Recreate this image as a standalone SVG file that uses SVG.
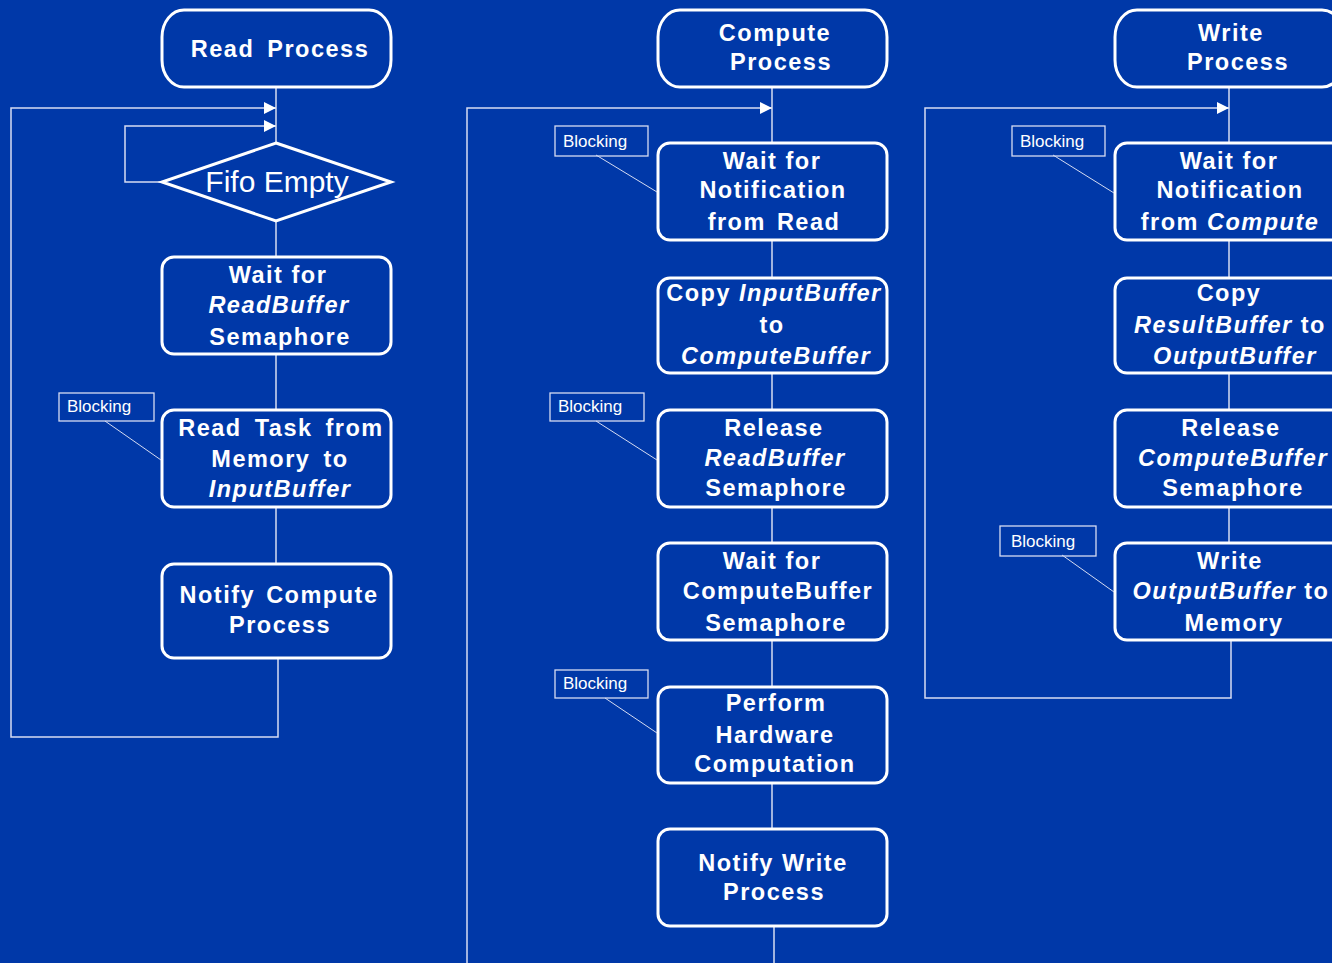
<svg xmlns="http://www.w3.org/2000/svg" width="1332" height="963" viewBox="0 0 1332 963">
<defs>
<marker id="arr" viewBox="0 0 12 12" refX="12" refY="6" markerWidth="12" markerHeight="12" markerUnits="userSpaceOnUse" orient="auto">
<path d="M0,0 L12,6 L0,12 z" fill="#ffffff"/>
</marker>
<style>
.bg{fill:#0038a8}
.term{fill:#0038a8;stroke:#ffffff;stroke-width:3}
.box{fill:#0038a8;stroke:#ffffff;stroke-width:3}
.con{fill:none;stroke:#d6dcf2;stroke-width:1.5}
.t{font-family:"Liberation Sans",Arial,sans-serif;font-weight:bold;font-size:23.5px;fill:#ffffff;text-anchor:middle;letter-spacing:1.5px}
.i{font-style:italic}
.w{word-spacing:5px}
.blk rect{fill:none;stroke:#d6dcf2;stroke-width:1.3}
.blk text{font-family:"Liberation Sans",Arial,sans-serif;font-size:17px;fill:#ffffff}
.blk line{stroke:#d6dcf2;stroke-width:1}
.fifo{font-family:"Liberation Sans",Arial,sans-serif;font-size:30px;fill:#ffffff;text-anchor:middle}
</style>
</defs>
<rect class="bg" x="0" y="0" width="1332" height="963"/>

<g id="connectors">
<line class="con" x1="276" y1="87" x2="276" y2="143"/>
<line class="con" x1="276" y1="221" x2="276" y2="257"/>
<line class="con" x1="276" y1="354" x2="276" y2="410"/>
<line class="con" x1="276" y1="507" x2="276" y2="564"/>
<polyline class="con" points="162,182 125,182 125,126 276,126" marker-end="url(#arr)"/>
<polyline class="con" points="278,658 278,737 11,737 11,108 276,108" marker-end="url(#arr)"/>
<line class="con" x1="772" y1="87" x2="772" y2="143"/>
<line class="con" x1="772" y1="240" x2="772" y2="278"/>
<line class="con" x1="772" y1="373" x2="772" y2="410"/>
<line class="con" x1="772" y1="507" x2="772" y2="543"/>
<line class="con" x1="772" y1="640" x2="772" y2="687"/>
<line class="con" x1="772" y1="783" x2="772" y2="829"/>
<line class="con" x1="774" y1="926" x2="774" y2="963"/>
<polyline class="con" points="467,963 467,108 772,108" marker-end="url(#arr)"/>
<line class="con" x1="1229" y1="87" x2="1229" y2="143"/>
<line class="con" x1="1229" y1="240" x2="1229" y2="278"/>
<line class="con" x1="1229" y1="373" x2="1229" y2="410"/>
<line class="con" x1="1229" y1="507" x2="1229" y2="543"/>
<polyline class="con" points="1231,640 1231,698 925,698 925,108 1229,108" marker-end="url(#arr)"/>
</g>

<g id="read-process">
<rect class="term" x="162" y="10" width="229" height="77" rx="22" ry="27"/>
<text class="t w" x="280" y="57">Read Process</text>
</g>
<g id="fifo-empty">
<polygon class="box" points="276,143 391,182 276,221 162,182"/>
<text class="fifo" x="277" y="192">Fifo Empty</text>
</g>
<g id="wait-readbuffer">
<rect class="box" x="162" y="257" width="229" height="97" rx="12"/>
<text class="t" x="278" y="283">Wait for</text>
<text class="t i" x="279" y="313">ReadBuffer</text>
<text class="t" x="280" y="345">Semaphore</text>
</g>
<g id="read-task">
<rect class="box" x="162" y="410" width="229" height="97" rx="12"/>
<text class="t w" x="281" y="436" word-spacing="3">Read Task from</text>
<text class="t w" x="280" y="467">Memory to</text>
<text class="t i" x="280" y="497">InputBuffer</text>
</g>
<g id="notify-compute">
<rect class="box" x="162" y="564" width="229" height="94" rx="12"/>
<text class="t" x="279" y="603" word-spacing="3">Notify Compute</text>
<text class="t" x="280" y="633">Process</text>
</g>
<g id="blocking-1">
<g class="blk">
<rect x="59" y="393" width="95" height="28"/>
<text x="67" y="412">Blocking</text>
<line x1="105" y1="421" x2="161" y2="460"/>
</g>
</g>

<g id="compute-process">
<rect class="term" x="658" y="10" width="229" height="77" rx="22" ry="27"/>
<text class="t" x="775" y="41">Compute</text>
<text class="t" x="781" y="70">Process</text>
</g>
<g id="wait-notif-read">
<rect class="box" x="658" y="143" width="229" height="97" rx="12"/>
<text class="t" x="772" y="169">Wait for</text>
<text class="t" x="773" y="198">Notification</text>
<text class="t" x="774" y="230" word-spacing="3">from Read</text>
</g>
<g id="copy-input">
<rect class="box" x="658" y="278" width="229" height="95" rx="12"/>
<text class="t" x="774" y="301" letter-spacing="1">Copy <tspan class="i">InputBuffer</tspan></text>
<text class="t" x="772" y="333">to</text>
<text class="t i" x="776" y="364">ComputeBuffer</text>
</g>
<g id="release-readbuffer">
<rect class="box" x="658" y="410" width="229" height="97" rx="12"/>
<text class="t" x="774" y="436">Release</text>
<text class="t i" x="775" y="466">ReadBuffer</text>
<text class="t" x="776" y="496">Semaphore</text>
</g>
<g id="wait-computebuffer">
<rect class="box" x="658" y="543" width="229" height="97" rx="12"/>
<text class="t" x="772" y="569">Wait for</text>
<text class="t" x="778" y="599">ComputeBuffer</text>
<text class="t" x="776" y="631">Semaphore</text>
</g>
<g id="perform-hw">
<rect class="box" x="658" y="687" width="229" height="96" rx="12"/>
<text class="t" x="776" y="711">Perform</text>
<text class="t" x="775" y="743">Hardware</text>
<text class="t" x="775" y="772">Computation</text>
</g>
<g id="notify-write">
<rect class="box" x="658" y="829" width="229" height="97" rx="12"/>
<text class="t" x="773" y="871">Notify Write</text>
<text class="t" x="774" y="900">Process</text>
</g>
<g id="blocking-2">
<g class="blk">
<rect x="555" y="126" width="93" height="30"/>
<text x="563" y="147">Blocking</text>
<line x1="596" y1="155" x2="657" y2="192"/>
</g>
</g>
<g id="blocking-3">
<g class="blk">
<rect x="550" y="393" width="94" height="28"/>
<text x="558" y="412">Blocking</text>
<line x1="596" y1="421" x2="657" y2="460"/>
</g>
</g>
<g id="blocking-4">
<g class="blk">
<rect x="555" y="670" width="93" height="28"/>
<text x="563" y="689">Blocking</text>
<line x1="605" y1="698" x2="657" y2="733"/>
</g>
</g>

<g id="write-process">
<rect class="term" x="1115" y="10" width="229" height="77" rx="22" ry="27"/>
<text class="t" x="1231" y="41">Write</text>
<text class="t" x="1238" y="70">Process</text>
</g>
<g id="wait-notif-compute">
<rect class="box" x="1115" y="143" width="229" height="97" rx="12"/>
<text class="t" x="1229" y="169">Wait for</text>
<text class="t" x="1230" y="198">Notification</text>
<text class="t" x="1230" y="230" letter-spacing="1">from <tspan class="i">Compute</tspan></text>
</g>
<g id="copy-result">
<rect class="box" x="1115" y="278" width="229" height="95" rx="12"/>
<text class="t" x="1229" y="301">Copy</text>
<text class="t" x="1230" y="333" letter-spacing="0.6"><tspan class="i">ResultBuffer</tspan> to</text>
<text class="t i" x="1235" y="364">OutputBuffer</text>
</g>
<g id="release-computebuffer">
<rect class="box" x="1115" y="410" width="229" height="97" rx="12"/>
<text class="t" x="1231" y="436">Release</text>
<text class="t i" x="1233" y="466" letter-spacing="0.6">ComputeBuffer</text>
<text class="t" x="1233" y="496">Semaphore</text>
</g>
<g id="write-output">
<rect class="box" x="1115" y="543" width="229" height="97" rx="12"/>
<text class="t" x="1230" y="569">Write</text>
<text class="t" x="1231" y="599" letter-spacing="0.6"><tspan class="i">OutputBuffer</tspan> to</text>
<text class="t" x="1234" y="631">Memory</text>
</g>
<g id="blocking-5">
<g class="blk">
<rect x="1012" y="126" width="93" height="30"/>
<text x="1020" y="147">Blocking</text>
<line x1="1053" y1="155" x2="1114" y2="193"/>
</g>
</g>
<g id="blocking-6">
<g class="blk">
<rect x="1000" y="526" width="96" height="30"/>
<text x="1011" y="547">Blocking</text>
<line x1="1062" y1="555" x2="1114" y2="592"/>
</g>
</g>
</svg>
